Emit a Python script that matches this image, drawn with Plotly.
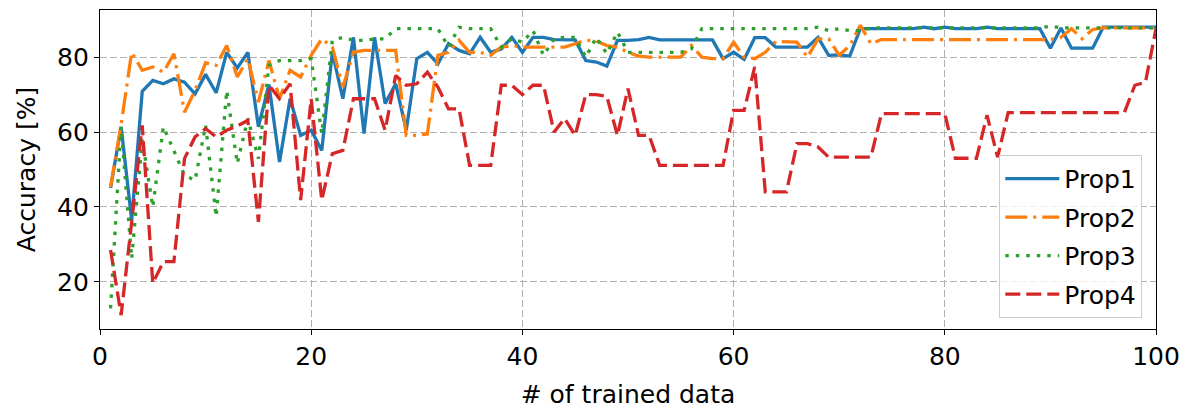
import plotly.graph_objects as go

x_vals = list(range(1, 101))

prop1 = [45.1, 61.4, 36.5, 70.9, 73.8, 72.9, 74.2, 73.3, 70.2, 75.4,
         70.5, 81.3, 77.1, 81.3, 61.4, 72.7, 52.0, 68.9, 59.1, 60.5,
         55.1, 81.3, 68.9, 85.3, 59.6, 85.3, 67.6, 72.9, 60.5, 79.6,
         81.3, 78.2, 83.6, 81.8, 80.9, 85.3, 81.3, 82.2, 85.3, 81.3,
         85.3, 85.3, 84.7, 84.6, 84.6, 79.1, 78.7, 77.6, 84.5, 84.5,
         84.7, 85.3, 84.6, 84.6, 84.6, 84.6, 84.6, 84.6, 79.6, 81.3,
         79.4, 85.2, 85.2, 82.7, 82.7, 82.7, 82.7, 85.3, 80.5, 80.6,
         80.3, 87.6, 87.6, 87.6, 87.6, 87.6, 87.6, 88.0, 87.6, 88.0,
         87.6, 87.6, 87.6, 88.0, 87.6, 87.6, 87.6, 87.6, 87.6, 82.4,
         87.8, 82.4, 82.4, 82.4, 88.0, 88.0, 88.0, 88.0, 88.0, 88.0]

prop2 = [45.3, 62.0, 81.3, 76.5, 77.4, 76.0, 80.9, 65.3, 71.1, 78.5,
         77.8, 83.1, 74.7, 79.6, 68.0, 79.1, 68.9, 76.5, 74.7, 80.5,
         84.9, 82.7, 72.0, 81.3, 81.8, 81.8, 81.8, 81.8, 59.1, 59.1,
         59.5, 80.5, 81.3, 84.5, 81.3, 81.3, 80.5, 82.7, 83.1, 82.7,
         82.7, 82.7, 82.7, 82.7, 83.6, 84.5, 84.3, 83.1, 82.7, 81.3,
         80.3, 80.0, 80.0, 80.0, 80.0, 83.1, 80.0, 79.6, 79.6, 84.0,
         80.0, 79.6, 81.3, 84.2, 84.2, 84.0, 80.0, 84.9, 84.9, 80.5,
         83.1, 88.5, 83.6, 84.7, 84.7, 84.7, 84.7, 84.7, 84.7, 84.7,
         84.7, 84.7, 84.7, 84.7, 84.7, 84.7, 84.7, 84.7, 84.7, 84.7,
         85.3, 87.6, 84.9, 87.4, 87.8, 87.8, 87.8, 87.8, 87.8, 87.8]

prop3 = [12.9, 61.4, 26.2, 58.0, 40.0, 61.4, 55.0, 48.5, 47.1, 61.8,
         37.4, 71.1, 51.6, 63.6, 52.9, 77.8, 79.1, 79.1, 79.1, 79.6,
         59.6, 84.5, 85.3, 84.5, 84.5, 84.9, 84.9, 87.6, 87.6, 87.6,
         87.6, 87.6, 82.7, 88.0, 87.6, 87.6, 87.6, 82.7, 84.9, 84.0,
         87.1, 80.5, 84.9, 85.3, 85.3, 80.0, 85.3, 80.9, 86.7, 81.3,
         81.3, 81.3, 81.3, 81.3, 81.3, 82.2, 87.6, 87.6, 87.6, 87.6,
         87.6, 87.6, 87.6, 87.6, 87.6, 87.6, 87.6, 88.0, 87.1, 87.6,
         87.1, 87.1, 87.8, 87.8, 87.8, 87.8, 87.8, 87.8, 87.8, 87.8,
         87.8, 87.8, 87.8, 87.8, 87.8, 87.8, 87.8, 87.8, 87.8, 88.3,
         87.8, 87.8, 87.8, 87.8, 87.8, 87.8, 87.8, 87.8, 87.8, 87.8]

prop4 = [28.5, 11.1, 36.0, 61.8, 19.6, 25.4, 25.4, 52.9, 58.7, 60.9,
         58.7, 60.5, 61.6, 63.1, 36.0, 72.5, 68.9, 72.9, 41.8, 68.9,
         41.8, 54.2, 55.1, 68.9, 68.9, 68.9, 60.5, 75.1, 72.5, 72.9,
         76.0, 72.0, 66.2, 66.2, 51.1, 51.1, 51.1, 72.5, 72.5, 70.0,
         72.5, 72.5, 60.0, 63.6, 59.1, 70.0, 70.0, 69.5, 59.1, 71.6,
         59.1, 59.1, 51.1, 51.1, 51.1, 51.1, 51.1, 51.1, 51.1, 65.8,
         65.8, 77.4, 44.0, 44.0, 44.0, 56.9, 56.9, 56.0, 53.3, 53.3,
         53.3, 53.3, 53.3, 64.9, 64.9, 64.9, 64.9, 64.9, 64.9, 64.9,
         53.0, 53.0, 53.0, 64.5, 53.3, 65.2, 65.2, 65.2, 65.2, 65.2,
         65.2, 65.2, 65.2, 65.2, 65.2, 65.2, 65.2, 72.5, 73.3, 87.6]

names = ["Prop1", "Prop2", "Prop3", "Prop4"]
colors = ["#1f77b4", "#ff7f0e", "#2ca02c", "#d62728"]
dashes = ["solid", "22px,6px,3px,6px", "3.5px,7px", "15px,6px"]
series = [prop1, prop2, prop3, prop4]

x_ticks = [0, 20, 40, 60, 80, 100]
y_ticks = [20, 40, 60, 80]

FONT = "DejaVu Sans"
fig = go.Figure()
for nm, col, ds, ys in zip(names, colors, dashes, series):
    fig.add_trace(go.Scatter(x=x_vals, y=ys, name=nm, mode="lines", legendgroup=nm,
                             line=dict(color=col, width=3.3, dash=ds)))

axis_common = dict(
    showline=True, linecolor="black", linewidth=1.3, mirror=True,
    ticks="outside", ticklen=5, tickwidth=1.2, tickcolor="black",
    showgrid=True, gridcolor="#b0b0b0", gridwidth=1.4, griddash="7px,3px",
    zeroline=False, tickfont=dict(family=FONT, size=25, color="black"),
)

fig.update_xaxes(range=[0, 100], tickvals=x_ticks,
                 title=dict(text="# of trained data", font=dict(family=FONT, size=25, color="black"), standoff=15),
                 **axis_common)
fig.update_yaxes(range=[7.4, 92.6], tickvals=y_ticks,
                 title=dict(text="Accuracy [%]", font=dict(family=FONT, size=25, color="black"), standoff=14),
                 **axis_common)

fig.update_layout(
    width=1190, height=412,
    margin=dict(l=100, r=34, t=10, b=83, autoexpand=False),
    plot_bgcolor="white", paper_bgcolor="white",
    font=dict(family=FONT, size=25, color="black"),
    legend=dict(x=0.987, y=0.035, xanchor="right", yanchor="bottom",
                traceorder="grouped", tracegroupgap=3,
                bgcolor="rgba(255,255,255,0.8)", bordercolor="#cccccc", borderwidth=1,
                font=dict(family=FONT, size=25, color="black"), itemwidth=54),
)

fig.write_html("out.html")
